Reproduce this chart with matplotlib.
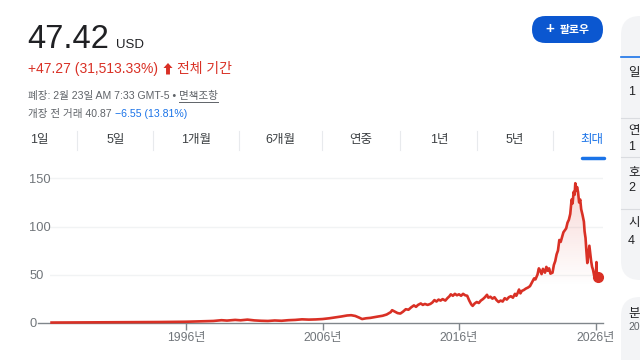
import numpy as np
import matplotlib.pyplot as plt
from matplotlib.patches import FancyBboxPatch, FancyArrow

FONT = ['Liberation Sans', 'Noto Sans CJK KR', 'DejaVu Sans']
plt.rcParams['font.family'] = FONT

# price history (decimal year, USD)
years = [1986.15, 1987, 1988, 1989, 1990, 1991, 1992, 1993, 1994, 1995, 1996,
         1997, 1998, 1998.6, 1999, 1999.6, 2000, 2000.5, 2001, 2001.5, 2002,
         2002.5, 2003, 2003.5, 2004, 2004.5, 2005, 2005.5, 2006, 2006.5, 2007,
         2007.4, 2007.8, 2008.1, 2008.4, 2008.7, 2008.9, 2009.2, 2009.5, 2009.8,
         2010.1, 2010.4, 2010.7, 2011.0, 2011.1, 2011.3, 2011.5, 2011.7, 2011.9,
         2012.1, 2012.3, 2012.5, 2012.7, 2012.85, 2013.0, 2013.2, 2013.35,
         2013.5, 2013.7, 2013.9, 2014.05, 2014.2, 2014.35, 2014.5, 2014.65,
         2014.8, 2015.0, 2015.15, 2015.3, 2015.4, 2015.55, 2015.7, 2015.85,
         2016.0, 2016.15, 2016.3, 2016.45, 2016.6, 2016.75, 2016.9, 2017.0,
         2017.15, 2017.3, 2017.45, 2017.6, 2017.75, 2017.9, 2018.05, 2018.15,
         2018.3, 2018.45, 2018.6, 2018.75, 2018.9, 2019.05, 2019.2, 2019.35,
         2019.5, 2019.65, 2019.8, 2019.95, 2020.1, 2020.2, 2020.3, 2020.4,
         2020.5, 2020.6, 2020.75, 2020.9, 2021.05, 2021.2, 2021.35, 2021.5,
         2021.6, 2021.75, 2021.85, 2021.95, 2022.05, 2022.15, 2022.3, 2022.4,
         2022.5, 2022.6, 2022.7, 2022.85, 2022.95, 2023.05, 2023.15, 2023.25,
         2023.35, 2023.45, 2023.55, 2023.65, 2023.75, 2023.85, 2023.95,
         2024.05, 2024.15, 2024.25, 2024.32, 2024.4, 2024.47, 2024.52, 2024.58,
         2024.65, 2024.72, 2024.8, 2024.88, 2024.95, 2025.05, 2025.15, 2025.2,
         2025.27, 2025.33, 2025.4, 2025.47, 2025.55, 2025.6, 2025.68, 2025.75,
         2025.82, 2025.9, 2025.97, 2026.03, 2026.07, 2026.1, 2026.15]
prices = [0.15, 0.2, 0.25, 0.3, 0.35, 0.45, 0.55, 0.6, 0.7, 0.8, 1.0,
          1.4, 1.8, 2.6, 2.2, 2.9, 2.5, 3.2, 2.4, 2.0, 1.8,
          2.3, 2.0, 2.6, 2.9, 3.5, 3.2, 3.4, 3.8, 4.6, 5.6,
          6.5, 7.5, 7.8, 7.0, 5.2, 3.8, 4.6, 5.0, 5.8,
          6.5, 7.2, 8.5, 11.0, 13.0, 11.5, 10.0, 9.5, 11.5,
          14.0, 13.5, 16.0, 18.0, 16.5, 18.5, 20.0, 18.5,
          19.5, 18.5, 19.5, 21.0, 23.5, 22.0, 24.0, 23.0,
          24.5, 23.0, 25.5, 27.5, 29.5, 28.0, 30.0, 28.5,
          29.5, 28.0, 30.0, 28.5, 28.0, 23.0, 19.0, 17.5,
          20.0, 21.5, 20.5, 23.0, 24.5, 26.5, 29.0, 26.0,
          27.0, 25.0, 26.5, 23.5, 21.5, 23.0, 22.0, 25.5,
          24.0, 26.5, 27.5, 26.0, 30.0, 28.0, 31.0, 34.5,
          30.5, 33.0, 34.0, 35.5, 36.5, 38.0, 42.0, 46.0,
          45.0, 50.0, 56.5, 54.0, 50.5, 56.0, 52.0, 58.0,
          54.0, 56.5, 51.0, 52.0, 60.0, 64.0, 71.0, 75.0,
          86.0, 84.0, 89.0, 94.0, 96.0, 98.0, 104.0,
          107.0, 113.0, 128.0, 124.0, 136.0, 133.0, 145.0, 137.0,
          141.0, 136.0, 125.0, 128.0, 118.0, 112.0, 105.0, 95.0,
          88.0, 75.0, 62.0, 70.0, 80.0, 74.0, 64.0, 58.0,
          55.0, 49.0, 47.0, 50.0, 63.0, 48.0, 47.42]

yticks = [0, 50, 100, 150]
xticks = [1996, 2006, 2016, 2026]
xlabels = ['1996년', '2006년', '2016년', '2026년']
tabs = ['1일', '5일', '1개월', '6개월', '연중', '1년', '5년', '최대']
tab_x = [39, 116, 196, 280, 361, 439, 515, 592]
sep_x = [77, 153, 239, 322, 400, 477, 553]

RED = '#d93025'
GRAY = '#5f6368'
BLUE = '#1a73e8'
W, H = 640, 360

fig = plt.figure(figsize=(6.4, 3.6), dpi=100)
fig.patch.set_facecolor('white')
renderer = fig.canvas.get_renderer()


def fx(px):
    return px / W


def fy(py):
    return 1 - py / H


def run(x, y, parts, size):
    # draw text segments one after another, return end x in pixels
    for txt, col, gap in parts:
        t = fig.text(fx(x), fy(y), txt, fontsize=size, color=col, va='baseline')
        x += t.get_window_extent(renderer).width + gap
    return x


# header
fig.text(fx(27), fy(48), '47.42', fontsize=23.5, color='#202124', va='baseline')
fig.text(fx(116), fy(48), 'USD', fontsize=9.5, color='#202124', va='baseline')
end = run(28, 73, [('+47.27 (31,513.33%)', RED, 0)], 10)
fig.add_artist(FancyArrow(fx(end + 10), fy(74.5), 0, 11.5 / H, width=2.2 / H,
                          head_width=fx(9), head_length=5 / H,
                          length_includes_head=True, transform=fig.transFigure,
                          color=RED, lw=0))
run(end + 19, 73, [('전체 기간', RED, 0)], 10)
end = run(28, 99, [('폐장: 2월 23일 AM 7:33 GMT-5 \u2022', GRAY, 3)], 7.6)
s = end
end = run(s, 99, [('면책조항', GRAY, 0)], 7.6)
fig.add_artist(plt.Line2D([fx(s), fx(end)], [fy(101.5), fy(101.5)], color=GRAY, lw=0.7))
run(28, 117, [('개장 전 거래 40.87', GRAY, 3), ('\u22126.55 (13.81%)', BLUE, 0)], 7.6)

# follow button
btn = FancyBboxPatch((fx(532), fy(43)), fx(71), 27 / H,
                     boxstyle='round,pad=0,rounding_size=0.021',
                     transform=fig.transFigure, facecolor='#0b57d0',
                     edgecolor='none', mutation_aspect=W / H)
fig.add_artist(btn)
fig.text(fx(550), fy(29.5), '+', fontsize=11, color='white', va='center',
         ha='center', fontweight='bold')
fig.text(fx(575), fy(29.5), '팔로우', fontsize=7.8, color='white', va='center',
         ha='center', fontweight='bold')

# right cards
card1 = FancyBboxPatch((fx(621), fy(280)), fx(40), 264 / H,
                       boxstyle='round,pad=0,rounding_size=0.03',
                       transform=fig.transFigure, facecolor='#f3f4f6',
                       edgecolor='none', mutation_aspect=W / H)
fig.add_artist(card1)
card2 = FancyBboxPatch((fx(621), fy(380)), fx(40), 83 / H,
                       boxstyle='round,pad=0,rounding_size=0.03',
                       transform=fig.transFigure, facecolor='#f3f4f6',
                       edgecolor='none', mutation_aspect=W / H)
fig.add_artist(card2)
fig.add_artist(plt.Line2D([fx(621), 1], [fy(57), fy(57)], color=BLUE, lw=1.2))
for yy in [118, 157, 209]:
    fig.add_artist(plt.Line2D([fx(621), 1], [fy(yy), fy(yy)], color='#dadce0', lw=0.8))
for lbl, yy in [('일', 73), ('1', 92), ('연', 131), ('1', 147), ('호', 172),
                ('2', 188), ('시', 223), ('4', 241), ('분', 314)]:
    fig.text(fx(628), fy(yy), lbl, fontsize=9, color='#202124', va='center')
fig.text(fx(628), fy(327), '20', fontsize=7.5, color=GRAY, va='center')

# range tabs
for lbl, x in zip(tabs, tab_x):
    col = BLUE if lbl == '최대' else '#3c4043'
    fig.text(fx(x), fy(140), lbl, fontsize=9, color=col, ha='center', va='center')
for x in sep_x:
    fig.add_artist(plt.Line2D([fx(x), fx(x)], [fy(131), fy(150)], color='#e8eaed', lw=0.8))
fig.add_artist(plt.Line2D([fx(582), fx(604)], [fy(157.5), fy(157.5)], color=BLUE,
                          lw=2.5, solid_capstyle='round'))

# chart axes
ax_left, ax_right, ax_top, ax_bot = 50, 603, 170, 322.7
ax = fig.add_axes([fx(ax_left), fy(ax_bot), fx(ax_right - ax_left),
                   (ax_bot - ax_top) / H])
px_per_year = 13.65
x0 = 1996 - (186 - ax_left) / px_per_year
x1 = 1996 + (ax_right - 186) / px_per_year
ymax = (ax_bot - ax_top) / 0.962
ax.set_xlim(x0, x1)
ax.set_ylim(0, ymax)
for sp in ax.spines.values():
    sp.set_visible(False)
ax.set_facecolor('none')

for v in yticks[1:]:
    ax.axhline(v, color='#f1f3f4', lw=1, zorder=0)
x_base_left = 1996 - (186 - 38) / px_per_year
ax.plot([x_base_left, x1], [0, 0], color='#80868b', lw=1, clip_on=False, zorder=1)

ax.set_yticks(yticks)
ax.set_yticklabels([str(v) for v in yticks])
ax.tick_params(axis='y', length=0, pad=15, labelsize=9.3, labelcolor='#70757a')
for lab in ax.get_yticklabels():
    lab.set_horizontalalignment('left')
ax.set_xticks(xticks)
ax.set_xticklabels(xlabels)
ax.tick_params(axis='x', length=5, width=1, color='#80868b', pad=2,
               labelsize=8.8, labelcolor='#70757a', direction='out')

# gradient fill under the line
yr = np.array(years)
pr = np.array(prices)
poly = ax.fill_between(yr, pr, 0, facecolor='none', edgecolor='none')
grad = np.linspace(0, 1, 256).reshape(-1, 1)
cmap_vals = np.zeros((256, 1, 4))
cmap_vals[..., 0] = 0.85
cmap_vals[..., 1] = 0.19
cmap_vals[..., 2] = 0.15
cmap_vals[..., 3] = np.clip((grad - 0.25) / 0.75, 0, 1) * 0.2
img = ax.imshow(cmap_vals, extent=[x0, x1, 0, 150], origin='lower',
                aspect='auto', zorder=1)
img.set_clip_path(poly.get_paths()[0], transform=ax.transData)

ax.plot(yr, pr, color=RED, lw=1.9, zorder=3, clip_on=False, solid_joinstyle='round')
ax.plot(yr[-1], pr[-1], 'o', color=RED, ms=7, zorder=4, clip_on=False)

fig.savefig('out.png', dpi=100)
